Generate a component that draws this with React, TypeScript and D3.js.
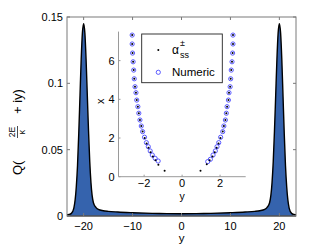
import * as d3 from 'd3';

// main curve Q(2E/k + iy) sampled along y
const curveY = [
  -23.4, -23, -22.5, -22, -21.5, -21.25, -21, -20.75, -20.5, -20.25, -20, -19.75, -19.5, -19.25, -19, -18.75,
  -18.5, -18, -17.5, -17, -16, -15, -13, -10, -6, -3, 0,
  3, 6, 10, 13, 15, 16, 17, 17.5, 18, 18.5, 18.75, 19, 19.25, 19.5, 19.75, 20, 20.25, 20.5, 20.75, 21,
  21.25, 21.5, 22, 22.5, 23, 23.4,
];
const curveQ = [
  0.001, 0.0012, 0.002, 0.006, 0.022, 0.038, 0.062, 0.09, 0.118, 0.138, 0.145, 0.138, 0.118, 0.091, 0.064, 0.041,
  0.025, 0.01, 0.0065, 0.005, 0.004, 0.0035, 0.003, 0.0025, 0.002, 0.0018, 0.0017,
  0.0018, 0.002, 0.0025, 0.003, 0.0035, 0.004, 0.005, 0.0065, 0.01, 0.025, 0.041, 0.064, 0.091, 0.118, 0.138, 0.145,
  0.138, 0.118, 0.09, 0.062, 0.038, 0.022, 0.006, 0.002, 0.0012, 0.001,
];
const mainXTicks = [-20, -10, 0, 10, 20];
const mainYTicks = [0, 0.05, 0.1, 0.15];

// inset: numeric points (y horizontal, x vertical)
const numericY = [
  2.68, 2.68, 2.66, 2.63, 2.59, 2.56, 2.53, 2.47, 2.44, 2.37, 2.33, 2.28, 2.2, 2.14, 2.03, 1.93, 1.84, 1.75, 1.63, 1.49, 1.35,
  -2.63, -2.63, -2.61, -2.58, -2.55, -2.52, -2.48, -2.43, -2.39, -2.33, -2.28, -2.22, -2.15, -2.08, -1.98, -1.88, -1.78, -1.68, -1.57, -1.42, -1.26,
];
const numericX = [
  7.32, 6.86, 6.39, 5.94, 5.51, 5.06, 4.65, 4.34, 3.96, 3.62, 3.28, 2.93, 2.62, 2.33, 2.04, 1.76, 1.55, 1.33, 1.12, 0.9, 0.78,
  7.32, 6.86, 6.39, 5.94, 5.51, 5.06, 4.65, 4.34, 3.96, 3.62, 3.28, 2.93, 2.62, 2.33, 2.04, 1.76, 1.55, 1.33, 1.12, 0.95, 0.81,
];
// alpha_ss points
const alphaY = [
  2.68, 2.68, 2.66, 2.63, 2.59, 2.56, 2.53, 2.47, 2.44, 2.37, 2.33, 2.28, 2.2, 2.14, 2.02, 1.92, 1.82, 1.72, 1.6, 1.45, 1.3, 0.97,
  -2.63, -2.63, -2.61, -2.58, -2.55, -2.52, -2.48, -2.43, -2.39, -2.33, -2.28, -2.22, -2.15, -2.08, -1.97, -1.87, -1.77, -1.66, -1.54, -1.4, -1.25, -0.92,
];
const alphaX = [
  7.32, 6.86, 6.39, 5.94, 5.51, 5.06, 4.65, 4.34, 3.96, 3.62, 3.28, 2.93, 2.62, 2.33, 2.0, 1.72, 1.5, 1.27, 1.05, 0.85, 0.64, 0.31,
  7.32, 6.86, 6.39, 5.94, 5.51, 5.06, 4.65, 4.34, 3.96, 3.62, 3.28, 2.93, 2.62, 2.33, 2.0, 1.72, 1.5, 1.27, 1.05, 0.85, 0.62, 0.31,
];
const insetXTicks = [-2, 0, 2];
const insetYTicks = [0, 2, 4, 6];

const FONT = "'Liberation Sans', Arial, sans-serif";
const FILL = '#3563ad';

export default function App() {
  const x = d3.scaleLinear().domain([-23.4, 23.4]).range([67, 296]);
  const y = d3.scaleLinear().domain([0, 0.15]).range([216, 17]);

  const pts = curveY.map((v, i) => [v, curveQ[i]] as [number, number]);
  const area = d3.area<[number, number]>()
    .x(d => x(d[0])).y0(y(0)).y1(d => y(d[1]))
    .curve(d3.curveMonotoneX);
  const line = d3.line<[number, number]>()
    .x(d => x(d[0])).y(d => y(d[1]))
    .curve(d3.curveMonotoneX);

  const ix = d3.scaleLinear().domain([-3.35, 3.35]).range([118.5, 245.7]);
  const iy = d3.scaleLinear().domain([0, 7.5]).range([176.7, 31.6]);

  const fmtY = (v: number) => (v === 0 ? '0' : String(v));
  const minus = (v: number) => String(v).replace('-', '\u2212');

  return (
    <div style={{ position: 'fixed', left: 0, top: 0 }}>
      <svg width={327} height={245} style={{ display: 'block', background: '#fff' }} fontFamily={FONT}>
        {/* main plot */}
        <path d={area(pts) ?? ''} fill={FILL} />
        <path d={line(pts) ?? ''} fill="none" stroke="#000" strokeWidth={1.4} />
        <line x1={67} x2={296} y1={216} y2={216} stroke="#000" strokeWidth={1.2} />

        {/* frame */}
        <rect x={67} y={17} width={229} height={199} fill="none" stroke="#7a7a7a" strokeWidth={1} />
        {mainXTicks.map(t => (
          <g key={'mx' + t}>
            <line x1={x(t)} x2={x(t)} y1={216} y2={213} stroke="#7a7a7a" />
            <line x1={x(t)} x2={x(t)} y1={17} y2={20} stroke="#7a7a7a" />
            <text x={x(t)} y={229.5} fontSize={11} textAnchor="middle" fill="#000">{minus(t)}</text>
          </g>
        ))}
        {mainYTicks.map(t => (
          <g key={'my' + t}>
            <line x1={67} x2={70} y1={y(t)} y2={y(t)} stroke="#7a7a7a" />
            <line x1={296} x2={293} y1={y(t)} y2={y(t)} stroke="#7a7a7a" />
            <text x={63} y={y(t) + 4} fontSize={11} textAnchor="end" fill="#000">{fmtY(t)}</text>
          </g>
        ))}
        <text x={x(0)} y={241.5} fontSize={11.5} textAnchor="middle">y</text>
        <g transform="translate(22,116) rotate(-90)">
          <text x={-59} y={0} fontSize={13}>Q(</text>
          <text x={-16} y={-7} fontSize={8.5} textAnchor="middle">2E</text>
          <line x1={-22} x2={-10} y1={-4.5} y2={-4.5} stroke="#000" strokeWidth={0.7} />
          <text x={-16} y={2.5} fontSize={8.5} textAnchor="middle">κ</text>
          <text x={2} y={0} fontSize={13}>+ iy)</text>
        </g>

        {/* inset */}
        <line x1={ix.range()[0]} x2={ix.range()[0]} y1={iy.range()[1]} y2={iy.range()[0]} stroke="#9a9a9a" />
        <line x1={ix.range()[0]} x2={ix.range()[1]} y1={iy.range()[0]} y2={iy.range()[0]} stroke="#9a9a9a" />
        {insetYTicks.map(t => (
          <g key={'iy' + t}>
            <line x1={ix.range()[0]} x2={ix.range()[0] + 2} y1={iy(t)} y2={iy(t)} stroke="#9a9a9a" />
            <text x={ix.range()[0] - 4} y={iy(t) + 4} fontSize={11} textAnchor="end">{t}</text>
          </g>
        ))}
        {insetXTicks.map(t => (
          <g key={'ix' + t}>
            <line x1={ix(t)} x2={ix(t)} y1={iy(0)} y2={iy(0) - 2} stroke="#9a9a9a" />
            <text x={ix(t)} y={iy(0) + 10.5} fontSize={11} textAnchor="middle">{minus(t)}</text>
          </g>
        ))}
        <text x={ix(0)} y={199.5} fontSize={10.5} textAnchor="middle">y</text>
        <text transform={`translate(104,${iy(3.9)}) rotate(-90)`} fontSize={11} textAnchor="middle">x</text>

        {numericY.map((v, i) => (
          <circle key={'n' + i} cx={ix(v)} cy={iy(numericX[i])} r={2.1} fill="none" stroke="#4a4aff" strokeWidth={0.9} />
        ))}
        {alphaY.map((v, i) => (
          <circle key={'a' + i} cx={ix(v)} cy={iy(alphaX[i])} r={1} fill="#000" />
        ))}

        {/* legend */}
        <rect x={141.7} y={34} width={80.6} height={48.7} fill="#fff" stroke="#222" strokeWidth={0.9} />
        <circle cx={158.3} cy={50} r={1} fill="#000" />
        <text x={172} y={54} fontSize={12}>α</text>
        <text x={180} y={46} fontSize={9}>±</text>
        <text x={180} y={58} fontSize={9}>ss</text>
        <circle cx={158.3} cy={72.3} r={2.1} fill="none" stroke="#4a4aff" strokeWidth={0.9} />
        <text x={172} y={76} fontSize={11.5}>Numeric</text>
      </svg>
    </div>
  );
}
